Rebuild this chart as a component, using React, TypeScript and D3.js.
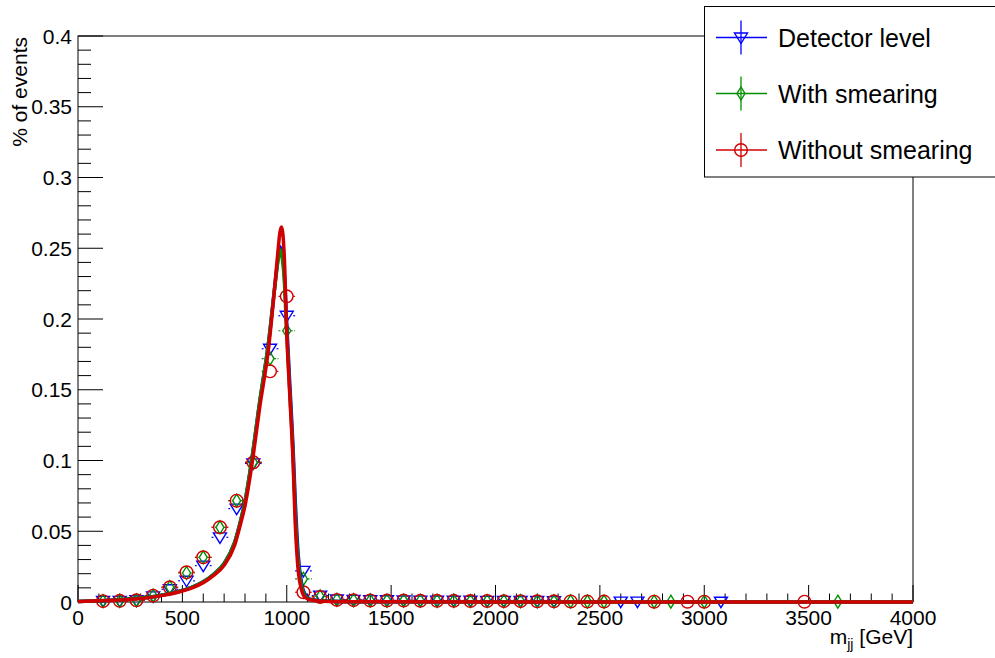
import React from "react";
import * as d3 from "d3";

// Histogram bin centres (80 GeV bins) in the populated region
const binCenters = [120, 200, 280, 360, 440, 520, 600, 680, 760, 840, 920, 1000, 1080, 1160,
  1240, 1320, 1400, 1480, 1560, 1640, 1720, 1800, 1880, 1960, 2040, 2120, 2200, 2280];

// Fraction of events per bin
const detectorVals = [0.0008, 0.0008, 0.0012, 0.004, 0.009, 0.015, 0.0257, 0.0457, 0.066, 0.098, 0.179, 0.2023, 0.022, 0.0045,
  0.0018, 0.0015, 0.0013, 0.0012, 0.0011, 0.001, 0.001, 0.0009, 0.0009, 0.0008, 0.0008, 0.0007, 0.0007, 0.0006];
const smearVals = [0.0007, 0.0008, 0.0012, 0.0045, 0.0105, 0.0205, 0.0316, 0.0528, 0.0716, 0.0987, 0.172, 0.1917, 0.0163, 0.004,
  0.0016, 0.0013, 0.0011, 0.001, 0.001, 0.0009, 0.0008, 0.0008, 0.0007, 0.0007, 0.0006, 0.0006, 0.0005, 0.0005];
const noSmearVals = [0.0006, 0.0008, 0.0012, 0.0045, 0.0104, 0.021, 0.0316, 0.0528, 0.0716, 0.0987, 0.163, 0.216, 0.0069, 0.0035,
  0.0015, 0.0013, 0.0011, 0.001, 0.001, 0.0009, 0.0008, 0.0008, 0.0007, 0.0007, 0.0006, 0.0006, 0.0005, 0.0005];

// Sparse high-mass bins
const detectorTailMass = [2600, 2680, 3080];
const detectorTailVals = [0.0003, 0.0003, 0.0002];
const smearTailMass = [2360, 2440, 2520, 2760, 2840, 3000, 3640];
const smearTailVals = [0.0004, 0.0003, 0.0003, 0.0002, 0.0002, 0.0002, 0.0002];
const noSmearTailMass = [2360, 2440, 2520, 2760, 2920, 3000, 3480];
const noSmearTailVals = [0.0004, 0.0003, 0.0003, 0.0002, 0.0002, 0.0002, 0.0002];

// Fitted line shapes sampled on a common mass grid
const fitMass = [0, 100, 200, 300, 400, 500, 550, 600, 650, 700, 750, 780, 800, 830, 870, 915, 942, 958, 967, 975,
  988, 1000, 1015, 1030, 1040, 1055, 1070, 1090, 1120, 1200, 1400, 4000];
const detectorFit = [0.0004, 0.0009, 0.0016, 0.0028, 0.0048, 0.0082, 0.0107, 0.0143, 0.0196, 0.0272, 0.042, 0.058, 0.071, 0.098, 0.141, 0.186, 0.222, 0.243, 0.251, 0.248,
  0.232, 0.196, 0.153, 0.11, 0.074, 0.033, 0.014, 0.005, 0.0017, 0.0005, 0.0001, 0];
const smearFit = [0.0004, 0.0009, 0.0016, 0.0028, 0.0048, 0.0082, 0.0107, 0.0143, 0.0196, 0.0272, 0.042, 0.058, 0.071, 0.098, 0.141, 0.186, 0.222, 0.241, 0.249, 0.246,
  0.228, 0.19, 0.147, 0.104, 0.066, 0.028, 0.012, 0.004, 0.0015, 0.0005, 0.0001, 0];
const noSmearFit = [0.0004, 0.0008, 0.0014, 0.0025, 0.0045, 0.0078, 0.0102, 0.0137, 0.0188, 0.026, 0.04, 0.056, 0.068, 0.094, 0.137, 0.182, 0.222, 0.248, 0.261, 0.265,
  0.245, 0.19, 0.145, 0.1, 0.058, 0.022, 0.009, 0.003, 0.0012, 0.0004, 0.0001, 0];

const xTicks = [0, 500, 1000, 1500, 2000, 2500, 3000, 3500, 4000];
const yTicks = [0, 0.05, 0.1, 0.15, 0.2, 0.25, 0.3, 0.35, 0.4];
const legendLabels = ["Detector level", "With smearing", "Without smearing"];

const BLUE = "#0000ff";
const GREEN = "#009000";
const RED = "#d00000";
const FONT = "'Liberation Sans', Arial, Helvetica, sans-serif";

const W = 995;
const H = 658;
const BIN_HALF = 40;

type Shape = "tri" | "dia" | "circ";

function Marker({ shape, cx, cy, color }: { shape: Shape; cx: number; cy: number; color: string }) {
  if (shape === "tri") {
    const p = `M${cx - 6.5},${cy - 4.5}L${cx + 6.5},${cy - 4.5}L${cx},${cy + 6}Z`;
    return <path d={p} fill="none" stroke={color} strokeWidth={1.4} />;
  }
  if (shape === "dia") {
    const p = `M${cx},${cy - 6.5}L${cx + 4},${cy}L${cx},${cy + 6.5}L${cx - 4},${cy}Z`;
    return <path d={p} fill="none" stroke={color} strokeWidth={1.4} />;
  }
  return <circle cx={cx} cy={cy} r={6.3} fill="none" stroke={color} strokeWidth={1.4} />;
}

const halfW: Record<Shape, number> = { tri: 6.5, dia: 4, circ: 6.3 };

export default function App() {
  const x = d3.scaleLinear().domain([0, 4000]).range([78, 913]);
  const y = d3.scaleLinear().domain([0, 0.4]).range([602, 36]);

  const xMinor = d3.range(0, 4001, 100).filter((v) => v % 500 !== 0);
  const yMinor = d3.range(0, 41, 1).map((v) => v / 100).filter((v, i) => i % 5 !== 0);

  const line = d3
    .line<number>()
    .x((_, i) => x(fitMass[i]))
    .y((d) => y(d))
    .curve(d3.curveMonotoneX);

  const series = [
    { shape: "tri" as Shape, color: BLUE, mass: [...binCenters, ...detectorTailMass], vals: [...detectorVals, ...detectorTailVals], fit: detectorFit },
    { shape: "dia" as Shape, color: GREEN, mass: [...binCenters, ...smearTailMass], vals: [...smearVals, ...smearTailVals], fit: smearFit },
    { shape: "circ" as Shape, color: RED, mass: [...binCenters, ...noSmearTailMass], vals: [...noSmearVals, ...noSmearTailVals], fit: noSmearFit },
  ];

  const fmtY = (v: number) => String(+v.toFixed(2));

  return (
    <svg width={W} height={H} style={{ position: "absolute", left: 0, top: 0, background: "#fff" }} fontFamily={FONT}>
      <rect x={0} y={0} width={W} height={H} fill="#fff" />

      {/* frame */}
      <rect x={78} y={36} width={913 - 78} height={602 - 36} fill="none" stroke="#000" strokeWidth={1} />

      {/* x axis ticks */}
      {xTicks.map((t) => (
        <line key={"xM" + t} x1={x(t)} x2={x(t)} y1={602} y2={585} stroke="#000" />
      ))}
      {xMinor.map((t) => (
        <line key={"xm" + t} x1={x(t)} x2={x(t)} y1={602} y2={593.5} stroke="#000" />
      ))}
      {xTicks.map((t) => (
        <text key={"xl" + t} x={x(t)} y={625} fontSize={21} textAnchor="middle" fill="#000">
          {t}
        </text>
      ))}

      {/* y axis ticks */}
      {yTicks.map((t) => (
        <line key={"yM" + t} x1={78} x2={103} y1={y(t)} y2={y(t)} stroke="#000" />
      ))}
      {yMinor.map((t) => (
        <line key={"ym" + t} x1={78} x2={91} y1={y(t)} y2={y(t)} stroke="#000" />
      ))}
      {yTicks.map((t) => (
        <text key={"yl" + t} x={72} y={y(t)} dy="0.36em" fontSize={21} textAnchor="end" fill="#000">
          {fmtY(t)}
        </text>
      ))}

      {/* axis titles */}
      <text transform="translate(27,37) rotate(-90)" fontSize={21} textAnchor="end" fill="#000">
        % of events
      </text>
      <text x={913} y={644} fontSize={21} textAnchor="end" fill="#000">
        m<tspan fontSize={14} dy={5}>jj</tspan>
        <tspan dy={-5}> [GeV]</tspan>
      </text>

      {/* data points with bin-width error bars */}
      {series.map((s, si) => (
        <g key={"pts" + si}>
          {s.mass.map((m, i) => {
            const cx = x(m);
            const cy = y(s.vals[i]);
            const hw = halfW[s.shape];
            const ex = x(m + BIN_HALF) - cx;
            return (
              <g key={i}>
                <line x1={cx - ex} x2={cx - hw} y1={cy} y2={cy} stroke={s.color} strokeWidth={1.2} strokeDasharray="2,1.5" />
                <line x1={cx + hw} x2={cx + ex} y1={cy} y2={cy} stroke={s.color} strokeWidth={1.2} strokeDasharray="2,1.5" />
                <Marker shape={s.shape} cx={cx} cy={cy} color={s.color} />
              </g>
            );
          })}
        </g>
      ))}

      {/* fitted curves */}
      {series.map((s, si) => (
        <path key={"fit" + si} d={line(s.fit) || ""} fill="none" stroke={s.color} strokeWidth={3.5} strokeLinejoin="round" />
      ))}

      {/* legend */}
      <rect x={704.5} y={6.5} width={300} height={170.5} fill="#fff" stroke="#000" strokeWidth={1} />
      {series.map((s, i) => {
        const cy = [37.5, 93.5, 150][i];
        return (
          <g key={"leg" + i}>
            <line x1={716} x2={767} y1={cy} y2={cy} stroke={s.color} strokeWidth={1.3} />
            <line x1={741} x2={741} y1={cy - 17} y2={cy + 17} stroke={s.color} strokeWidth={1.3} />
            <Marker shape={s.shape} cx={741} cy={cy} color={s.color} />
            <text x={778} y={cy + 9.3} fontSize={25} fill="#000">
              {legendLabels[i]}
            </text>
          </g>
        );
      })}
    </svg>
  );
}
